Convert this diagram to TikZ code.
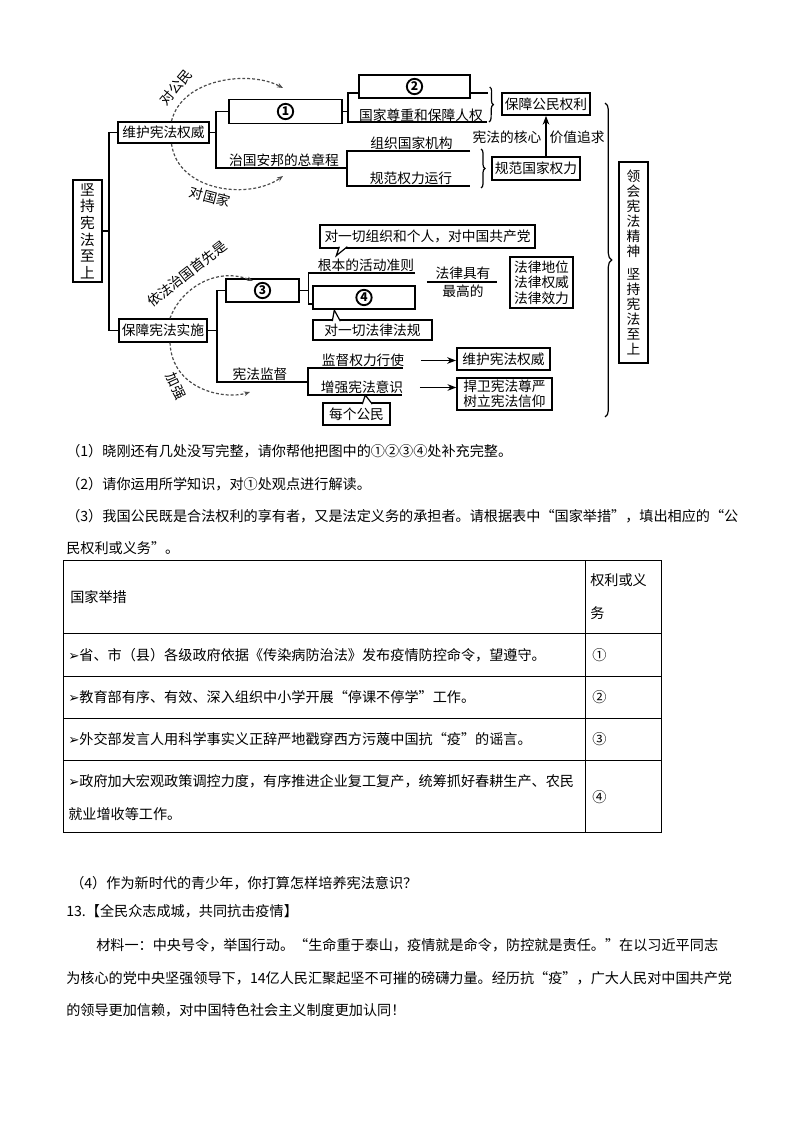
\documentclass[tikz,border=0pt]{standalone}
\usepackage{fontspec}
\setmainfont{Noto Sans CJK SC}
\newfontfamily\dejavu{DejaVu Sans}
\usetikzlibrary{arrows.meta,positioning,calc,decorations.pathreplacing}
\newcommand{\dgfont}{\fontsize{10.3}{12}\selectfont}
\newcommand{\txfont}{\fontsize{10.6}{12}\selectfont}
\newcommand{\tip}{{\dejavu\fontsize{10}{12}\selectfont ➢}}

\begin{document}
\begin{tikzpicture}[x=0.75pt,y=-0.75pt,>=Stealth,
  box/.style={draw,line width=1.3pt,fill=white,font=\dgfont,inner sep=1pt,align=center},
  num/.style={circle,draw,line width=1.4pt,inner sep=0pt,minimum size=11.5pt,font=\bfseries\fontsize{9}{9}\selectfont},
  lbl/.style={font=\dgfont,inner sep=1pt},
  ln/.style={line width=1.3pt},
  darc/.style={line width=0.9pt,black!70,dash pattern=on 2.2pt off 1.5pt,-{Stealth[length=4.5pt,width=3.5pt]}},
  brc/.style={decorate,decoration={brace,amplitude=3pt},line width=0.9pt},
  tl/.style={font=\txfont,anchor=west,inner sep=0pt}]
\fill[white] (0,0) rectangle (794,1123);

% left part of the chart
\node[box,font=\fontsize{11}{12.4}\selectfont,minimum width=21.75pt,minimum height=76.5pt] (root) at (87.5,231) {坚\\持\\宪\\法\\至\\上};
\node[box,minimum width=68pt,minimum height=15.75pt] (wh) at (163.5,132.5) {维护宪法权威};
\node[box,minimum width=66pt,minimum height=17pt] (bz) at (163,330.5) {保障宪法实施};
\draw[ln] (root.east) -- ++(6,0) coordinate (rj) |- (wh.west);
\draw[ln] (rj) |- (bz.west);

% upper branch
\node[box,minimum width=85pt,minimum height=18pt] (n1) at (285.5,111.5) {};
\node[num] (c1) at (n1) {1};
\draw[ln] (wh.east) -- ++(6.5,0) coordinate (wj) |- (n1.west);
\coordinate (zj) at (347,168);
\draw[ln] (wj) |- (zj);
\node[lbl] (zg) at (284,160) {治国安邦的总章程};

\draw[ln] (n1.east) -- ++(5,0) coordinate (n1j);
\coordinate (e3) at (487,122);
\node[box,minimum width=83pt,minimum height=17pt] (n2) at (414.5,86.5) {};
\node[num] (c2) at (n2) {2};
\draw[ln] ([yshift=-4.9pt]n2.west) -| (n1j) |- (e3);
\draw[ln] ([yshift=-4.9pt]n2.east) -- ++(17,0) coordinate (e2);
\node[lbl] (gz) at (421,115) {国家尊重和保障人权};
\draw[brc] ($(e2)+(2,-6)$) -- ($(e3)+(2,0)$);
\node[box,minimum width=66pt,minimum height=16.5pt] (bm) at (546,104) {保障公民权利};

\coordinate (e4) at (470,151);
\coordinate (e5) at (470,186);
\draw[ln] (e4) -| (zj) |- (e5);
\node[lbl] (zz) at (411.5,143.5) {组织国家机构};
\node[lbl] (gy) at (411,178.5) {规范权力运行};
\draw[brc] ($(e4)+(11,-2)$) -- ($(e5)+(11,2)$);
\node[box,minimum width=66pt,minimum height=17pt] (gf) at (536,168.5) {规范国家权力};
\draw[->,line width=0.8pt] (gf.north -| bm.south) -- (bm.south);
\node[lbl,anchor=east] (hx) at (543,137.5) {宪法的核心};
\node[lbl,anchor=west] (jz) at (548,137.5) {价值追求};

% dashed arcs, upper
\coordinate (a1) at (283,88);
\coordinate (a2) at (283,176);
\draw[darc] ($(wh.north)+(8,0)$) .. controls (182,78) and (250,70) .. (a1);
\node[lbl,rotate=50] (dgm) at (176,87) {对公民};
\draw[darc] ($(wh.south)+(8,0)$) .. controls (178,192) and (250,200) .. (a2);
\node[lbl,rotate=-15] (dgj) at (210,197) {对国家};

% lower branch
\node[box,minimum width=55pt,minimum height=17pt] (n3) at (262.5,290.5) {};
\node[num] (c3) at (n3) {3};
\draw[ln] (bz.east) -- ++(9,0) coordinate (bj) |- (n3.west);
\coordinate (jj) at (308,382);
\draw[ln] (bj) |- (jj);
\node[lbl] (xj) at (260,374.5) {宪法监督};

\draw[ln] (n3.east) -- ++(8.5,0) coordinate (n3j);
\coordinate (e6) at (415,273);
\node[box,minimum width=76.5pt,minimum height=17pt] (n4) at (364,297.5) {};
\node[num] (c4) at (n4) {4};
\draw[ln] (e6) -| (n3j) |- ([yshift=-5pt]n4.west);
\node[lbl] (gb) at (366,265.5) {根本的活动准则};

\node[box,minimum width=161pt,minimum height=17pt] (cb1) at (427.5,236.5) {对一切组织和个人，对中国共产党};
\filldraw[line width=0.9pt,fill=white] ($(cb1.south west)+(20,-2)$) -- ($(cb1.south west)+(17,7)$) -- ($(cb1.south west)+(28,-2)$);
\node[box,minimum width=89pt,minimum height=15pt] (cb2) at (372.5,330) {对一切法律法规};
\filldraw[line width=0.9pt,fill=white] ($(cb2.north west)+(20,2)$) -- ($(cb2.north west)+(22,-9)$) -- ($(cb2.north west)+(28,2)$);

\node[lbl,anchor=south] (fy) at (463,281) {法律具有};
\node[lbl,anchor=north] (zgd) at (463,283) {最高的};
\draw[line width=0.8pt] ($(fy.south west)+(-7,1)$) -- ($(fy.south east)+(5,1)$);
\node[box,minimum width=47pt,minimum height=38pt,font=\fontsize{10.3}{11.6}\selectfont] (fl) at (541.5,282.5) {法律地位\\法律权威\\法律效力};

\coordinate (e8) at (403,368);
\coordinate (e9) at (402,395);
\draw[ln] (e8) -| (jj) |- (e9);
\node[lbl] (jd) at (363,360.5) {监督权力行使};
\node[lbl] (zq) at (362,387.5) {增强宪法意识};
\node[box,minimum width=50pt,minimum height=16.5pt] (cb3) at (356.5,414) {每个公民};
\filldraw[line width=0.9pt,fill=white] ($(cb3.north west)+(40,2)$) -- ($(cb3.north west)+(43,-7)$) -- ($(cb3.north west)+(50,2)$);
\node[box,minimum width=70pt,minimum height=16.5pt] (wh2) at (503.5,359) {维护宪法权威};
\node[box,minimum width=71pt,minimum height=24pt,font=\fontsize{10.3}{11.3}\selectfont] (hw) at (504.5,394) {捍卫宪法尊严\\树立宪法信仰};
\draw[->,line width=0.8pt] ($(jd.east)+(15,0)$) -- (jd.east -| wh2.west);
\draw[->,line width=0.8pt] ($(zq.east)+(15,0)$) -- (zq.east -| hw.west);

% dashed arcs, lower
\coordinate (a3) at (253,281);
\coordinate (a4) at (250,392);
\draw[darc] ($(bz.north)+(7,0)$) .. controls (180,290) and (215,266) .. (a3);
\node[lbl,rotate=38] (yf) at (187,274) {依法治国首先是};
\draw[darc] ($(bz.south)+(7,0)$) .. controls (172,390) and (225,400) .. (a4);
\node[lbl,rotate=-65] (jq) at (176,386) {加强};

% right brace and box
\coordinate (bt) at (605,103);
\coordinate (bb) at (605,417);
\draw[decorate,decoration={brace,amplitude=5pt},line width=0.9pt] (bt) -- (bb);
\node[box,minimum width=21.75pt,minimum height=150.75pt,font=\fontsize{10.3}{11.2}\selectfont] (lz) at (633.5,262.5) {领\\会\\宪\\法\\精\\神\\[6pt]坚\\持\\宪\\法\\至\\上};

% questions
\node[tl] (q1) at (66,451) {（1）晓刚还有几处没写完整，请你帮他把图中的①②③④处补充完整。};
\node[tl] (q2) at (66,484) {（2）请你运用所学知识，对①处观点进行解读。};
\node[tl] (q3) at (66,516) {（3）我国公民既是合法权利的享有者，又是法定义务的承担者。请根据表中“国家举措”，填出相应的“公};
\node[tl] (q3b) at (66,548) {民权利或义务”。};

% table
\draw[line width=0.7pt] (63,560) rectangle (661,832);
\draw[line width=0.7pt] (585,560) -- (585,832);
\foreach \y in {633,676,718,760} \draw[line width=0.7pt] (63,\y) -- (661,\y);
\node[tl] (th1) at (70,597) {国家举措};
\node[tl,align=left,font=\fontsize{10.6}{24.75}\selectfont] (th2) at (590,596.5) {权利或义\\务};
\node[tl] (r1) at (68,655) {\tip 省、市（县）各级政府依据《传染病防治法》发布疫情防控命令，望遵守。};
\node[tl] (r2) at (68,697) {\tip 教育部有序、有效、深入组织中小学开展“停课不停学”工作。};
\node[tl] (r3) at (68,739) {\tip 外交部发言人用科学事实义正辞严地戳穿西方污蔑中国抗“疫”的谣言。};
\node[tl,align=left,font=\fontsize{10.6}{24.75}\selectfont] (r4) at (68,797.5) {\tip 政府加大宏观政策调控力度，有序推进企业复工复产，统筹抓好春耕生产、农民\\就业增收等工作。};
\node[tl] (s1) at (592,655) {①};
\node[tl] (s2) at (592,697) {②};
\node[tl] (s3) at (592,739) {③};
\node[tl] (s4) at (592,797.5) {④};

% text below
\node[tl] (q4) at (70,883) {（4）作为新时代的青少年，你打算怎样培养宪法意识？};
\node[tl] (q13) at (66,911) {13.【全民众志成城，共同抗击疫情】};
\node[tl] (m1) at (96,945) {材料一：中央号令，举国行动。“生命重于泰山，疫情就是命令，防控就是责任。”在以习近平同志};
\node[tl] (m2) at (66,978) {为核心的党中央坚强领导下，14亿人民汇聚起坚不可摧的磅礴力量。经历抗“疫”，广大人民对中国共产党};
\node[tl] (m3) at (66,1010) {的领导更加信赖，对中国特色社会主义制度更加认同！};
\end{tikzpicture}
\end{document}
